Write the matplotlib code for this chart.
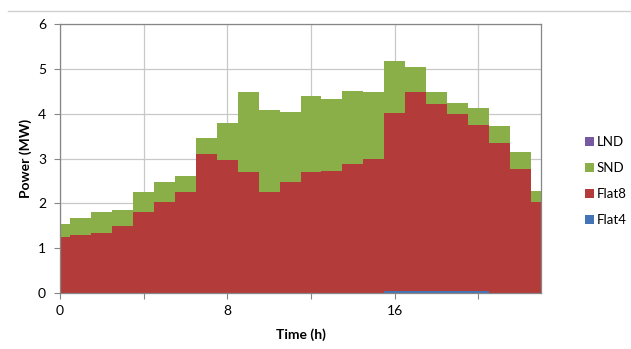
import numpy as np
import matplotlib.pyplot as plt
from matplotlib.lines import Line2D
import matplotlib.patches as patches

plt.rcParams['font.family'] = ['Lato', 'DejaVu Sans']

hours = list(range(24))
flat4 = [0, 0, 0, 0, 0, 0, 0, 0, 0, 0, 0, 0,
         0, 0, 0, 0, 0.03, 0.03, 0.03, 0.03, 0.03, 0, 0, 0]
flat8 = [1.25, 1.29, 1.34, 1.48, 1.80, 2.02, 2.24, 3.10, 2.96, 2.70, 2.24, 2.47,
         2.70, 2.73, 2.88, 3.00, 3.99, 4.46, 4.18, 3.96, 3.73, 3.35, 2.77, 2.02]
snd = [0.29, 0.37, 0.46, 0.36, 0.44, 0.45, 0.37, 0.35, 0.83, 1.79, 1.84, 1.58,
       1.70, 1.60, 1.64, 1.48, 1.17, 0.55, 0.27, 0.26, 0.36, 0.37, 0.37, 0.26]
lnd = [0] * 24

series = [("Flat4", flat4, "#4474B8"),
          ("Flat8", flat8, "#B33C3A"),
          ("SND", snd, "#8BAF48"),
          ("LND", lnd, "#7659A0")]

fig = plt.figure(figsize=(6.31, 3.49), dpi=100)
ax = fig.add_axes([60 / 631, 1 - 292.7 / 349, 481 / 631, 268.4 / 349])

x = np.array(hours)
base = np.zeros(len(hours))
for name, vals, color in series:
    top = base + np.array(vals)
    ax.fill_between(x, base, top, step='mid', color=color, linewidth=0, zorder=2)
    base = top

ax.set_xlim(0, 23)
ax.set_ylim(0, 6)

# major ticks every 4 h (labels every 8 h), minor every 2 h pointing in
ax.set_xticks([0, 4, 8, 12, 16, 20])
ax.set_xticklabels(["0", "", "8", "", "16", ""])
ax.set_xticks([2, 6, 10, 14, 18, 22], minor=True)
ax.set_yticks(range(7))

ax.tick_params(axis='x', which='major', direction='out', length=4, width=0.8,
               color='#868686', labelsize=10, pad=5, labelcolor='#000000')
ax.tick_params(axis='x', which='minor', direction='in', length=3, width=0.8,
               color='#868686')
ax.tick_params(axis='y', direction='out', length=4, width=0.8,
               color='#868686', labelsize=10, pad=6, labelcolor='#000000')

ax.grid(True, which='major', color='#C8C8C8', linewidth=0.9, zorder=0)
ax.set_axisbelow(True)
for side in ['left', 'bottom', 'top', 'right']:
    ax.spines[side].set_color('#868686')
    ax.spines[side].set_linewidth(0.9)

ax.set_xlabel("Time (h)", fontsize=10, fontweight='bold', labelpad=8)
ax.set_ylabel("Power (MW)", fontsize=10, fontweight='bold', labelpad=4)

# legend, top series listed first
handles = [patches.Patch(facecolor=c, edgecolor='none', label=n)
           for n, _, c in reversed(series)]
fig.legend(handles=handles, loc='center left', bbox_to_anchor=(585 / 631, 1 - 181 / 349),
           frameon=False, fontsize=9.5, handlelength=0.65, handleheight=0.65,
           handletextpad=0.25, labelspacing=1.05, borderpad=0, borderaxespad=0)

# chart area top border
fig.add_artist(Line2D([8 / 631, 1], [1 - 10.7 / 349, 1 - 10.7 / 349],
                      color='#D0D0D0', linewidth=1))

fig.savefig("out.png", dpi=100)
